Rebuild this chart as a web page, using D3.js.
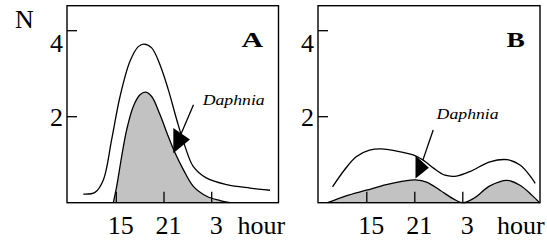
<!DOCTYPE html>
<html>
<head>
<meta charset="utf-8">
<script src="https://cdn.jsdelivr.net/npm/d3@7"></script>
<style>
  body { margin: 0; background: #fff; }
</style>
</head>
<body>
<div id="chart"></div>
<script>
// hours run past midnight: 27 = 3 o'clock next day
const hourTicks = [15, 21, 27];
const hourLabels = ["15", "21", "3"];
const nTicks = [2, 4];

// panel A, upper curve (hour, N)
const totalA = [[10.85, 0.2], [12.32, 0.24], [13.37, 0.53], [14.42, 1.47], [15.47, 2.47], [16.72, 3.29],
  [17.77, 3.63], [18.49, 3.69], [19.45, 3.6], [20.49, 3.21], [21.54, 2.63], [22.6, 1.93], [23.64, 1.31],
  [24.69, 0.84], [26.37, 0.57], [28.89, 0.42], [31.82, 0.34], [34.34, 0.29]];
// panel A, Daphnia (grey)
const daphA = [[14.62, 0], [15.05, 0.38], [15.68, 1.08], [16.31, 1.7], [17.14, 2.24], [17.98, 2.51],
  [18.7, 2.57], [19.45, 2.47], [20.49, 2.05], [21.54, 1.54], [22.38, 1.16], [23.43, 0.77], [24.69, 0.38],
  [26.37, 0.15], [28.05, 0.05], [29.3, 0]];
// panel B, upper curve
const totalB = [[10.72, 0.37], [12.2, 0.76], [13.67, 1.07], [15.34, 1.22], [16.81, 1.25], [18.7, 1.2],
  [20.79, 1.11], [22.05, 0.99], [23.3, 0.81], [24.77, 0.64], [26.21, 0.62], [27.96, 0.73], [30.38, 0.95],
  [32.54, 1.0], [34.2, 0.87], [35.66, 0.56], [36.05, 0.45]];
// panel B, Daphnia (grey)
const daphB = [[10.1, 0], [12.41, 0.16], [14.93, 0.29], [17.44, 0.42], [19.53, 0.5], [21.09, 0.53],
  [22.47, 0.48], [24.15, 0.29], [25.82, 0.09], [27.04, 0], [28.44, 0.11], [30.38, 0.39], [32.54, 0.52],
  [34.2, 0.4], [35.66, 0.17], [36.6, 0]];

// arrow annotations: triangle [base top, base bottom, tip], leader line, label anchor
const arrowA = {tri: [[22.17, 1.74], [22.17, 1.15], [24.26, 1.47]], line: [[23.14, 1.6], [24.71, 2.28]], label: [25.87, 2.27]};
const arrowB = {tri: [[21.09, 1.1], [21.09, 0.56], [22.76, 0.81]], line: [[22.01, 0.99], [23.3, 1.69]], label: [23.73, 1.95]};

const panels = [
  {name: "A", x0: 67, x1: 278.5, hours: [8.8, 35.4], total: totalA, daph: daphA, arrow: arrowA, letterW: 21.7, hourX: 237.5},
  {name: "B", x0: 318, x1: 540, hours: [8.9, 36.65], total: totalB, daph: daphB, arrow: arrowB, letterW: 18.3, hourX: 497}
];

const w = 547, h = 240, frameTop = 5.7, frameBottom = 202.7;

const svg = d3.select("#chart").append("svg")
  .attr("width", w)
  .attr("height", h)
  .attr("font-family", "Liberation Serif");

const y = d3.scaleLinear().domain([0, 4]).range([frameBottom, 30.7]);

svg.append("text")
  .attr("x", 15).attr("y", 28)
  .attr("font-size", 26)
  .text("N");

panels.forEach(p => {
  const x = d3.scaleLinear().domain(p.hours).range([p.x0, p.x1]);
  const g = svg.append("g");
  const curve = d3.curveCatmullRom.alpha(0.5);

  g.append("path")
    .datum(p.daph)
    .attr("fill", "#c2c2c2")
    .attr("d", d3.area().x(d => x(d[0])).y0(frameBottom).y1(d => y(d[1])).curve(curve));

  const line = d3.line().x(d => x(d[0])).y(d => y(d[1])).curve(curve);

  g.append("path").datum(p.daph)
    .attr("fill", "none").attr("stroke", "#000").attr("stroke-width", 1.3)
    .attr("d", line);

  g.append("path").datum(p.total)
    .attr("fill", "none").attr("stroke", "#000").attr("stroke-width", 1.3)
    .attr("d", line);

  // frame
  g.append("rect")
    .attr("x", p.x0).attr("y", frameTop)
    .attr("width", p.x1 - p.x0).attr("height", frameBottom - frameTop)
    .attr("fill", "none").attr("stroke", "#000").attr("stroke-width", 1.4);

  // hour ticks, pointing up from the bottom
  g.selectAll(".xt").data(hourTicks).enter().append("line")
    .attr("x1", d => x(d)).attr("x2", d => x(d))
    .attr("y1", frameBottom).attr("y2", frameBottom - 11)
    .attr("stroke", "#000").attr("stroke-width", 1.3);

  g.selectAll(".xl").data(hourTicks).enter().append("text")
    .attr("x", d => x(d) + 4.5).attr("y", 233.5)
    .attr("text-anchor", "middle")
    .attr("font-size", 26)
    .text((d, i) => hourLabels[i]);

  g.append("text")
    .attr("x", p.hourX).attr("y", 233.5)
    .attr("font-size", 26)
    .text("hour");

  // N ticks pointing in
  g.selectAll(".yt").data(nTicks).enter().append("line")
    .attr("x1", p.x0).attr("x2", p.x0 + 10)
    .attr("y1", d => y(d)).attr("y2", d => y(d))
    .attr("stroke", "#000").attr("stroke-width", 1.3);

  // the "4" sits below its tick in the original, the "2" is centred
  g.selectAll(".yl").data(nTicks).enter().append("text")
    .attr("x", p.x0 - 4)
    .attr("y", d => y(d) + (d === 4 ? 21.3 : 9.3))
    .attr("text-anchor", "end")
    .attr("font-size", 26)
    .text(d => d);

  g.append("text")
    .attr("x", p.x1 - 15.2 - p.letterW).attr("y", 46.7)
    .attr("font-size", 20).attr("font-weight", "bold")
    .attr("textLength", p.letterW).attr("lengthAdjust", "spacingAndGlyphs")
    .text(p.name);

  // Daphnia arrow
  const a = p.arrow;
  g.append("path")
    .attr("d", "M" + a.tri.map(d => x(d[0]) + "," + y(d[1])).join("L") + "Z")
    .attr("fill", "#000");
  g.append("line")
    .attr("x1", x(a.line[0][0])).attr("y1", y(a.line[0][1]))
    .attr("x2", x(a.line[1][0])).attr("y2", y(a.line[1][1]))
    .attr("stroke", "#000").attr("stroke-width", 1.3);
  g.append("text")
    .attr("x", x(a.label[0])).attr("y", y(a.label[1]))
    .attr("font-size", 15).attr("font-style", "italic")
    .attr("textLength", 62).attr("lengthAdjust", "spacingAndGlyphs")
    .text("Daphnia");
});
</script>
</body>
</html>
